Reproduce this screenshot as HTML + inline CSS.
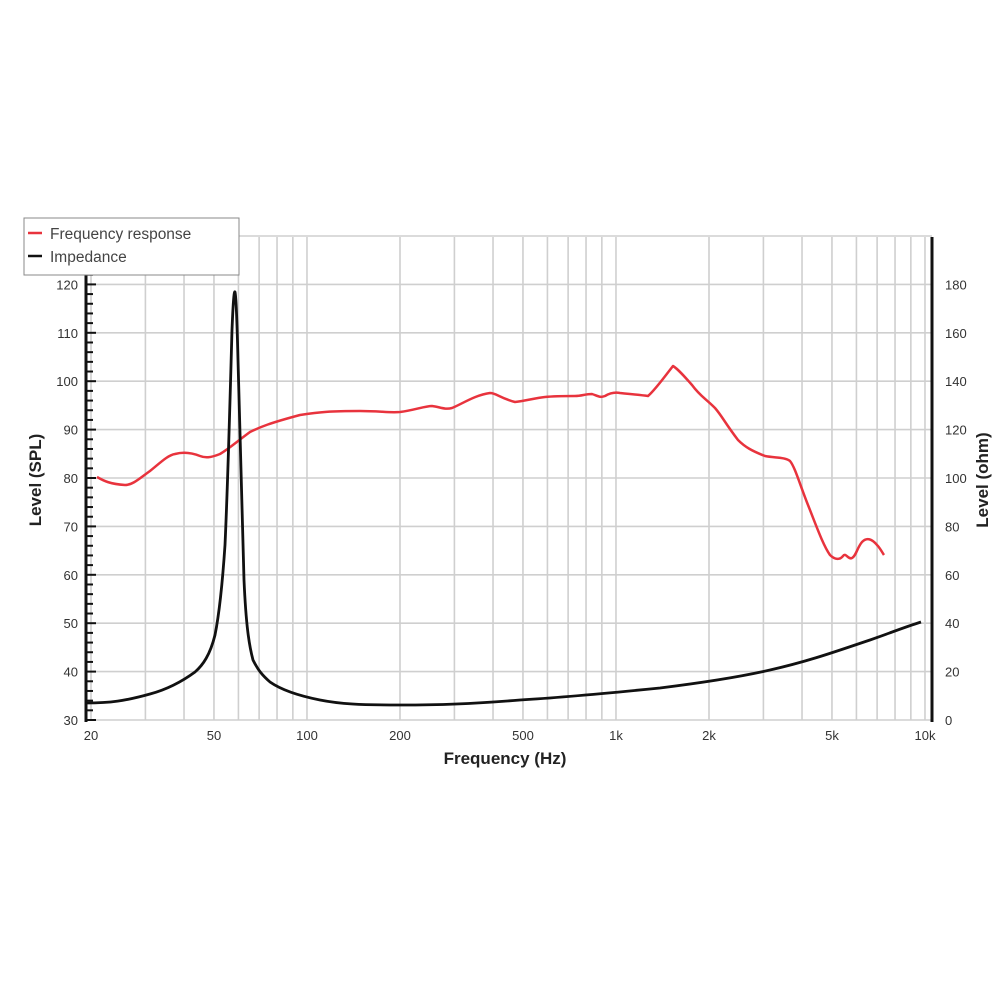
<!DOCTYPE html>
<html><head><meta charset="utf-8"><style>
html,body{margin:0;padding:0;background:#fff;}
svg{display:block;font-family:"Liberation Sans",sans-serif;}
</style></head><body>
<svg id="s" width="1000" height="1000" viewBox="0 0 1000 1000" xmlns="http://www.w3.org/2000/svg">
<g id="grid" stroke="#cfcfcf" stroke-width="1.6"></g>
<g id="ticks" stroke="#111" stroke-width="2"></g>
<line x1="86" y1="237" x2="86" y2="722" stroke="#111" stroke-width="3"/>
<line x1="932" y1="237" x2="932" y2="722" stroke="#111" stroke-width="3"/>
<path fill="none" stroke="#e8333d" stroke-width="2.5" stroke-linejoin="round" d="M97,477 C104,481 110,484 125,485 C133,485 140,478 150,471 C160,463 168,455 175,454 C182,452 190,452 200,456 C205,458 210,458 220,454 C230,448 235,443 250,432 C260,427 270,423 300,415 C320,412 330,411 360,411 C380,411 390,413 400,412 C415,410 425,406 432,406 C440,407 445,410 452,408 C462,404 475,395 490,393 C496,393 500,398 515,402 C525,401 535,398 545,397 C555,396 565,396 575,396 C582,396 585,394 592,394 C598,396 600,398 605,396 C610,393 615,392 620,393 C630,394 640,395 648,396 C655,390 662,380 673,366 C678,369 685,377 692,385 C700,396 705,398 715,408 C722,416 725,423 738,440 C745,447 752,451 765,456 C775,458 785,457 790,461 C795,467 800,485 808,505 C816,525 823,545 830,555 C835,560 840,560 843,556 C846,552 848,560 852,558 C856,556 857,548 862,542 C867,537 872,539 877,545 C880,548 882,552 884,555"/>
<path fill="none" stroke="#111" stroke-width="2.8" stroke-linejoin="round" d="M86,703 C110,703 125,701 150,694 C165,690 180,683 195,672 C203,665 210,655 215,635 C219,615 222,590 225,545 C228,480 230,400 232,330 C233,305 234,290 235,292 C236,296 237,320 238,360 C240,420 242,520 244,580 C246,625 249,645 253,660 C258,670 262,675 270,682 C280,689 295,695 320,700 C340,704 360,705 400,705 C440,705 470,704 520,700 C570,697 620,692 660,688 C700,683 740,677 770,670 C810,661 840,650 870,640 C890,633 905,627 921,622"/>
<rect x="24" y="218" width="215" height="57" fill="#fff" stroke="#888" stroke-width="1"/>
<line x1="28" y1="233" x2="42" y2="233" stroke="#e8333d" stroke-width="2.5"/>
<line x1="28" y1="256" x2="42" y2="256" stroke="#111" stroke-width="2.5"/>
<text x="50" y="239" font-size="15.5" fill="#444">Frequency response</text>
<text x="50" y="262" font-size="15.5" fill="#444">Impedance</text>
<g id="labels" font-size="13" fill="#333"></g>
<text x="505" y="764" font-size="17" font-weight="bold" fill="#222" text-anchor="middle">Frequency (Hz)</text>
<text transform="translate(41,480) rotate(-90)" font-size="17" font-weight="bold" fill="#222" text-anchor="middle">Level (SPL)</text>
<text transform="translate(988,480) rotate(-90)" font-size="17" font-weight="bold" fill="#222" text-anchor="middle">Level (ohm)</text>
</svg>
<script>
var NS="http://www.w3.org/2000/svg";
function el(p,t,a,txt){var e=document.createElementNS(NS,t);for(var k in a)e.setAttribute(k,a[k]);if(txt)e.textContent=txt;document.getElementById(p).appendChild(e);}
function X(f){return 91+309*Math.log10(f/20);}
var fs=[];
for(var f=20;f<100;f+=10)fs.push(f);
for(f=100;f<1000;f+=100)fs.push(f);
for(f=1000;f<=10000;f+=1000)fs.push(f);
fs.forEach(function(f){var x=X(f);el("grid","line",{x1:x,y1:237,x2:x,y2:720});});
function Y(v){return 720-(v-30)*4.84;}
for(var v=30;v<=130;v+=10){el("grid","line",{x1:86,y1:Y(v),x2:932,y2:Y(v)});}
for(v=30;v<=124;v+=2){var L=(v%10==0)?10:7;el("ticks","line",{x1:86,y1:Y(v),x2:86+L,y2:Y(v)});}
for(v=30;v<=120;v+=10){el("labels","text",{x:78,y:Y(v)+5,"text-anchor":"end"},""+v);}
for(var o=0;o<=180;o+=20){el("labels","text",{x:945,y:720-o*2.42+5},""+o);}
[[20,"20"],[50,"50"],[100,"100"],[200,"200"],[500,"500"],[1000,"1k"],[2000,"2k"],[5000,"5k"],[10000,"10k"]].forEach(function(p){el("labels","text",{x:X(p[0]),y:740,"text-anchor":"middle"},p[1]);});
</script>
</body></html>
